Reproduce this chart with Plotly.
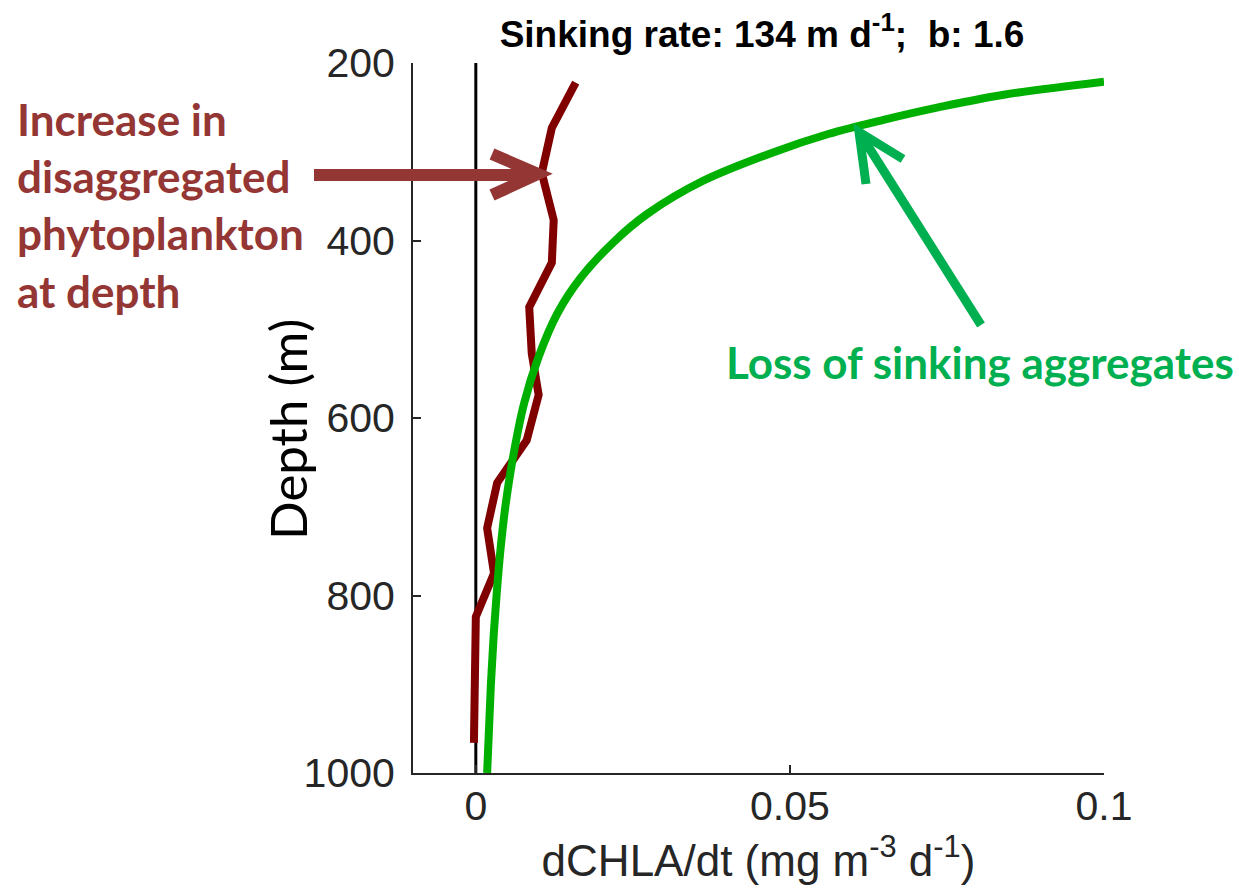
import plotly.graph_objects as go

# ---------------- data ----------------
red_depth = [222, 273, 324, 377, 425, 475, 527, 574, 625, 673, 724, 775, 824, 876, 926, 966]
red_rate = [0.0159, 0.0121, 0.0105, 0.0124, 0.0121, 0.0085, 0.0089, 0.0100, 0.0081,
            0.0034, 0.0018, 0.0029, 0.0000, 0.0000, -0.0003, -0.0003]

green_depth = [221, 236, 250, 264, 280, 301, 333, 370, 402, 442, 482, 531, 583,
               645, 700, 750, 800, 850, 900, 950, 1000]
green_rate = [0.1000, 0.0838, 0.0736, 0.0649, 0.0561, 0.0472, 0.0361, 0.0273, 0.0219,
              0.0167, 0.0130, 0.0100, 0.0077, 0.0059, 0.0047, 0.0039, 0.0033, 0.0028,
              0.0024, 0.0021, 0.0018]

zero_x = [0, 0]
zero_y = [200, 1000]

x_ticks = [0, 0.05, 0.1]
x_ticklabels = ["0", "0.05", "0.1"]
y_ticks = [200, 400, 600, 800, 1000]

# ---------------- layout geometry ----------------
W, H = 1239, 889
L, R, T, B = 413, 1104, 63, 773


def paper(px, py):
    return (px - L) / (R - L), (B - py) / (B - T)


fig = go.Figure()
fig.add_trace(go.Scatter(x=zero_x, y=zero_y, mode="lines",
                         line=dict(color="black", width=3), showlegend=False))
fig.add_trace(go.Scatter(x=red_rate, y=red_depth, mode="lines",
                         line=dict(color="#800000", width=8), showlegend=False))
fig.add_trace(go.Scatter(x=green_rate, y=green_depth, mode="lines",
                         line=dict(color="#00B000", width=8, shape="spline", smoothing=1.0),
                         showlegend=False))

tick_font = dict(family="Liberation Sans, Arial, sans-serif", size=41, color="#262626")

fig.update_layout(
    width=W, height=H, autosize=False,
    margin=dict(l=L, r=W - R, t=T, b=H - B),
    paper_bgcolor="white", plot_bgcolor="white",
    title=dict(text="<b>Sinking rate: 134 m d<sup>-1</sup>;  b: 1.6</b>",
               x=762 / W, xanchor="center", y=1 - 34 / H, yanchor="middle",
               xref="container", yref="container",
               font=dict(family="Liberation Sans, Arial, sans-serif", size=37, color="black")),
    xaxis=dict(range=[-0.01, 0.1], tickvals=x_ticks, ticktext=x_ticklabels,
               showgrid=False, zeroline=False, showline=True, linecolor="#262626",
               linewidth=2, ticks="inside", ticklen=8, tickwidth=2, tickcolor="#262626",
               tickfont=tick_font, ticklabelstandoff=-4, automargin=False,
               title=dict(text="dCHLA/dt (mg m<sup>-3</sup> d<sup>-1</sup>)",
                          font=dict(family="Liberation Sans, Arial, sans-serif", size=44,
                                    color="#262626"),
                          standoff=12)),
    yaxis=dict(range=[1000, 200], tickvals=y_ticks,
               showgrid=False, zeroline=False, showline=True, linecolor="#262626",
               linewidth=2, ticks="inside", ticklen=8, tickwidth=2, tickcolor="#262626",
               tickfont=tick_font, ticklabelstandoff=8, automargin=False),
)

# y axis title placed as an annotation (offset from the plot centre like the reference)
ux, vy = paper(287, 430)
fig.add_annotation(xref="paper", yref="paper", x=ux, y=vy, xanchor="center", yanchor="middle",
                   showarrow=False, textangle=-90, text="Depth (m)",
                   font=dict(family="Lato, Calibri, sans-serif", size=51, color="black"))

# ---------------- annotations ----------------
red_col = "#943634"
green_col = "#00B050"

ux, vy = paper(15, 205)
fig.add_annotation(xref="paper", yref="paper", x=ux, y=vy, xanchor="left", yanchor="middle",
                   align="left", showarrow=False,
                   text="<b>Increase in<br>disaggregated<br>phytoplankton<br>at depth</b>",
                   font=dict(family="Lato, Calibri, sans-serif", size=44, color=red_col))

ux, vy = paper(724, 362)
fig.add_annotation(xref="paper", yref="paper", x=ux, y=vy, xanchor="left", yanchor="middle",
                   showarrow=False, text="<b>Loss of sinking aggregates</b>",
                   font=dict(family="Lato, Calibri, sans-serif", size=44, color=green_col))


def path(points):
    pts = [paper(px, py) for px, py in points]
    return "M " + " L ".join(f"{a:.5f},{b:.5f}" for a, b in pts)


# red arrow
fig.add_shape(type="path", xref="paper", yref="paper",
              path=path([(314, 175), (536, 175)]), line=dict(color=red_col, width=12))
fig.add_shape(type="path", xref="paper", yref="paper",
              path=path([(492, 154), (538, 174), (492, 195)]), line=dict(color=red_col, width=12))
# green arrow
fig.add_shape(type="path", xref="paper", yref="paper",
              path=path([(981, 325), (861, 135)]), line=dict(color=green_col, width=9))
fig.add_shape(type="path", xref="paper", yref="paper",
              path=path([(866, 184), (859, 132), (903, 159)]), line=dict(color=green_col, width=9))

fig.write_html("out.html")
